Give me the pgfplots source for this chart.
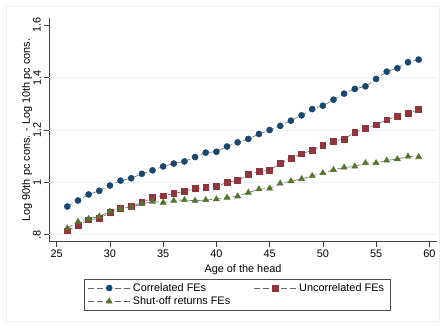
\documentclass[border=0pt]{standalone}
\usepackage{fontspec}
\setmainfont{Liberation Sans}
\usepackage{pgfplots}
\pgfplotsset{compat=1.18}
\definecolor{snavy}{RGB}{26,71,111}
\definecolor{smaroon}{RGB}{144,53,59}
\definecolor{sgreen}{RGB}{85,117,47}
\definecolor{sgrid}{RGB}{234,242,243}
\newcommand{\ff}{\fontsize{10.9}{13}\selectfont}
\begin{document}
\begin{tikzpicture}
\begin{axis}[
  scale only axis,
  width=387.4pt, height=223.4pt,
  xmin=24.306, xmax=60.694,
  ymin=0.7736, ymax=1.6268,
  axis x line*=bottom, axis y line*=left,
  axis line style={black!75, line width=0.6pt, -},
  xtick={25,30,...,60},
  ytick={0.8,1,1.2,1.4,1.6},
  yticklabels={.8,1,1.2,1.4,1.6},
  tick align=outside,
  major tick length=5pt,
  tick style={black!75, line width=0.6pt},
  extra y ticks={0.8,1,1.2,1.4},
  extra y tick labels={},
  extra y tick style={grid=major, major tick length=0pt, major grid style={sgrid, line width=0.8pt}},
  /pgf/number format/assume math mode=true,
  tick label style={font=\ff},
  yticklabel style={rotate=90, anchor=south},
  label style={font=\ff},
  xlabel={Age of the head},
  ylabel={Log 90th pc cons. - Log 10th pc cons.},
  ylabel shift=-11pt,
  legend columns=2,
  legend style={at={(0.0903,-0.167)}, anchor=north west, draw=black!70, line width=0.6pt, font=\ff,
    /tikz/every even column/.append style={column sep=21pt}},
  legend cell align=left,
  legend image code/.code={\draw[#1, mark repeat=2, mark phase=2] plot coordinates {(0pt,0pt) (21.35pt,0pt) (42.7pt,0pt)};},
  every axis plot/.append style={black!60, dash pattern=on 6pt off 3pt, line width=0.6pt},
]
\addplot[mark=*, mark size=3pt, mark options={solid, fill=snavy, draw=snavy}] table {
x y
26 0.908
27 0.931
28 0.954
29 0.968
30 0.988
31 1.007
32 1.016
33 1.033
34 1.046
35 1.061
36 1.072
37 1.080
38 1.097
39 1.114
40 1.117
41 1.137
42 1.153
43 1.166
44 1.185
45 1.200
46 1.216
47 1.236
48 1.256
49 1.280
50 1.293
51 1.316
52 1.339
53 1.357
54 1.367
55 1.395
56 1.423
57 1.436
58 1.459
59 1.469
};
\addlegendentry{\makebox[98pt][l]{Correlated FEs}}
\addplot[mark=square*, mark size=2.9pt, mark options={solid, fill=smaroon, draw=smaroon}] table {
x y
26 0.815
27 0.837
28 0.857
29 0.863
30 0.885
31 0.902
32 0.908
33 0.923
34 0.942
35 0.949
36 0.957
37 0.967
38 0.976
39 0.981
40 0.984
41 1.000
42 1.008
43 1.030
44 1.041
45 1.047
46 1.072
47 1.092
48 1.109
49 1.123
50 1.141
51 1.157
52 1.166
53 1.191
54 1.206
55 1.220
56 1.239
57 1.253
58 1.263
59 1.278
};
\addlegendentry{\makebox[86pt][l]{Uncorrelated FEs}}
\addplot[mark=triangle*, mark size=3.4pt, mark options={solid, fill=sgreen, draw=sgreen}] table {
x y
26 0.825
27 0.850
28 0.861
29 0.870
30 0.889
31 0.900
32 0.905
33 0.918
34 0.927
35 0.923
36 0.930
37 0.933
38 0.930
39 0.933
40 0.936
41 0.942
42 0.947
43 0.961
44 0.974
45 0.977
46 0.996
47 1.005
48 1.013
49 1.025
50 1.036
51 1.048
52 1.057
53 1.061
54 1.074
55 1.074
56 1.084
57 1.089
58 1.099
59 1.097
};
\addlegendentry{\makebox[98pt][l]{Shut-off returns FEs}}
\end{axis}
\pgfresetboundingbox
\path[use as bounding box] ([xshift=-49.3pt,yshift=-86.3pt]current axis.south west) rectangle ++(445pt,328pt);
\draw[black!6, line width=0.6pt] ([xshift=-43pt,yshift=-80pt]current axis.south west) rectangle ++(433pt,315pt);
\end{tikzpicture}
\end{document}
